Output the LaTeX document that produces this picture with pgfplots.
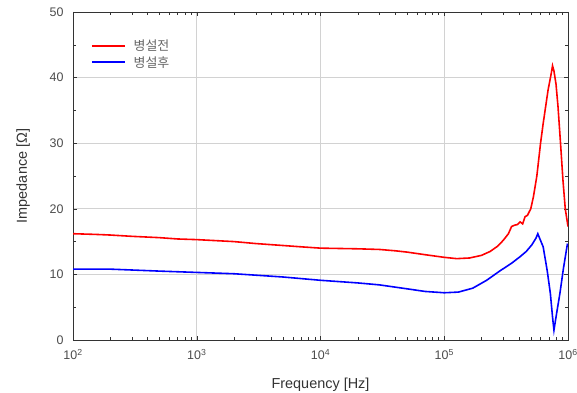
\documentclass[border=0pt]{standalone}
\usepackage{pgfplots}
\pgfplotsset{compat=1.18}
\usepackage{fontspec}
\setmainfont{Liberation Sans}
\newfontfamily\kr{Noto Sans CJK KR}
\begin{document}
\begin{tikzpicture}
\begin{axis}[
  xmode=log, scale only axis,
  width=495bp, height=328bp,
  xmin=1e2, xmax=1e6, ymin=0, ymax=50,
  xtick={1e2,1e3,1e4,1e5,1e6},
  xticklabels={10\textsuperscript{2},10\textsuperscript{3},10\textsuperscript{4},10\textsuperscript{5},10\textsuperscript{6}},
  ytick={0,10,20,30,40,50},
  minor ytick={5,15,25,35,45},
  /pgf/number format/assume math mode=true,
  tick label style={font=\fontsize{12.5}{14}\selectfont, text=black!70},
  xticklabel style={yshift=-6bp},
  yticklabel style={xshift=-6bp},
  label style={font=\fontsize{14.5}{17}\selectfont, text=black!80},
  xlabel={Frequency [Hz]}, ylabel={Impedance [Ω]},
  xlabel style={yshift=-11bp},
  ylabel style={yshift=13bp},
  grid=major, major grid style={gray!35, line width=0.6pt},
  axis line style={black!80, line width=0.8pt},
  tick style={black!80},
  name=ax,
]
\addplot[color=red, line width=1.6pt] coordinates {
(100,16.2)(150,16.1)(200,16.0)(300,15.8)(500,15.6)(700,15.4)(1000,15.3)
(2000,15.0)(3000,14.7)(5000,14.4)(7000,14.2)(10000,14.0)(20000,13.9)
(30000,13.8)(40000,13.6)(50000,13.4)(70000,13.0)(100000,12.6)(126000,12.4)
(160000,12.5)(200000,12.9)(235000,13.5)(270000,14.3)(300000,15.2)(330000,16.2)
(350000,17.3)(370000,17.5)(390000,17.6)(410000,18.0)(430000,17.7)(450000,18.8)
(470000,19.0)(500000,20.0)(525000,21.8)(560000,25)(600000,30)(630000,33)
(690000,38.1)(730000,40.5)(750000,41.8)(770000,41)(800000,39)(830000,35.6)
(870000,30)(910000,24.4)(950000,20)(1000000,17.3)};
\addplot[color=blue, line width=1.6pt] coordinates {
(100,10.8)(200,10.8)(500,10.5)(1000,10.3)(2000,10.1)(5000,9.6)(10000,9.1)
(20000,8.7)(30000,8.4)(50000,7.8)(70000,7.4)(100000,7.2)(130000,7.3)
(170000,7.9)(220000,9.1)(280000,10.5)(350000,11.7)(410000,12.7)(460000,13.5)
(510000,14.5)(550000,15.5)(570000,16.2)(590000,15.5)(630000,14.2)(680000,10.5)
(720000,7.1)(750000,3.5)(770000,1.5)(800000,3.5)(860000,7.1)(920000,11)(990000,14.7)};
% legend
\draw[red, line width=1.6pt] (rel axis cs:0.038,0.897) -- (rel axis cs:0.105,0.897);
\draw[blue, line width=1.6pt] (rel axis cs:0.038,0.847) -- (rel axis cs:0.105,0.847);
\node[anchor=west, inner sep=0pt, text=black!60, font=\kr\fontsize{13}{15}\selectfont] at (rel axis cs:0.122,0.897) {병설전};
\node[anchor=west, inner sep=0pt, text=black!60, font=\kr\fontsize{13}{15}\selectfont] at (rel axis cs:0.122,0.847) {병설후};
\coordinate (sw) at (rel axis cs:0,0);
\coordinate (ne) at (rel axis cs:1,1);
\end{axis}
\pgfresetboundingbox
\path ([shift={(-73bp,-53bp)}]sw) rectangle ([shift={(9bp,12bp)}]ne);
\end{tikzpicture}
\end{document}
